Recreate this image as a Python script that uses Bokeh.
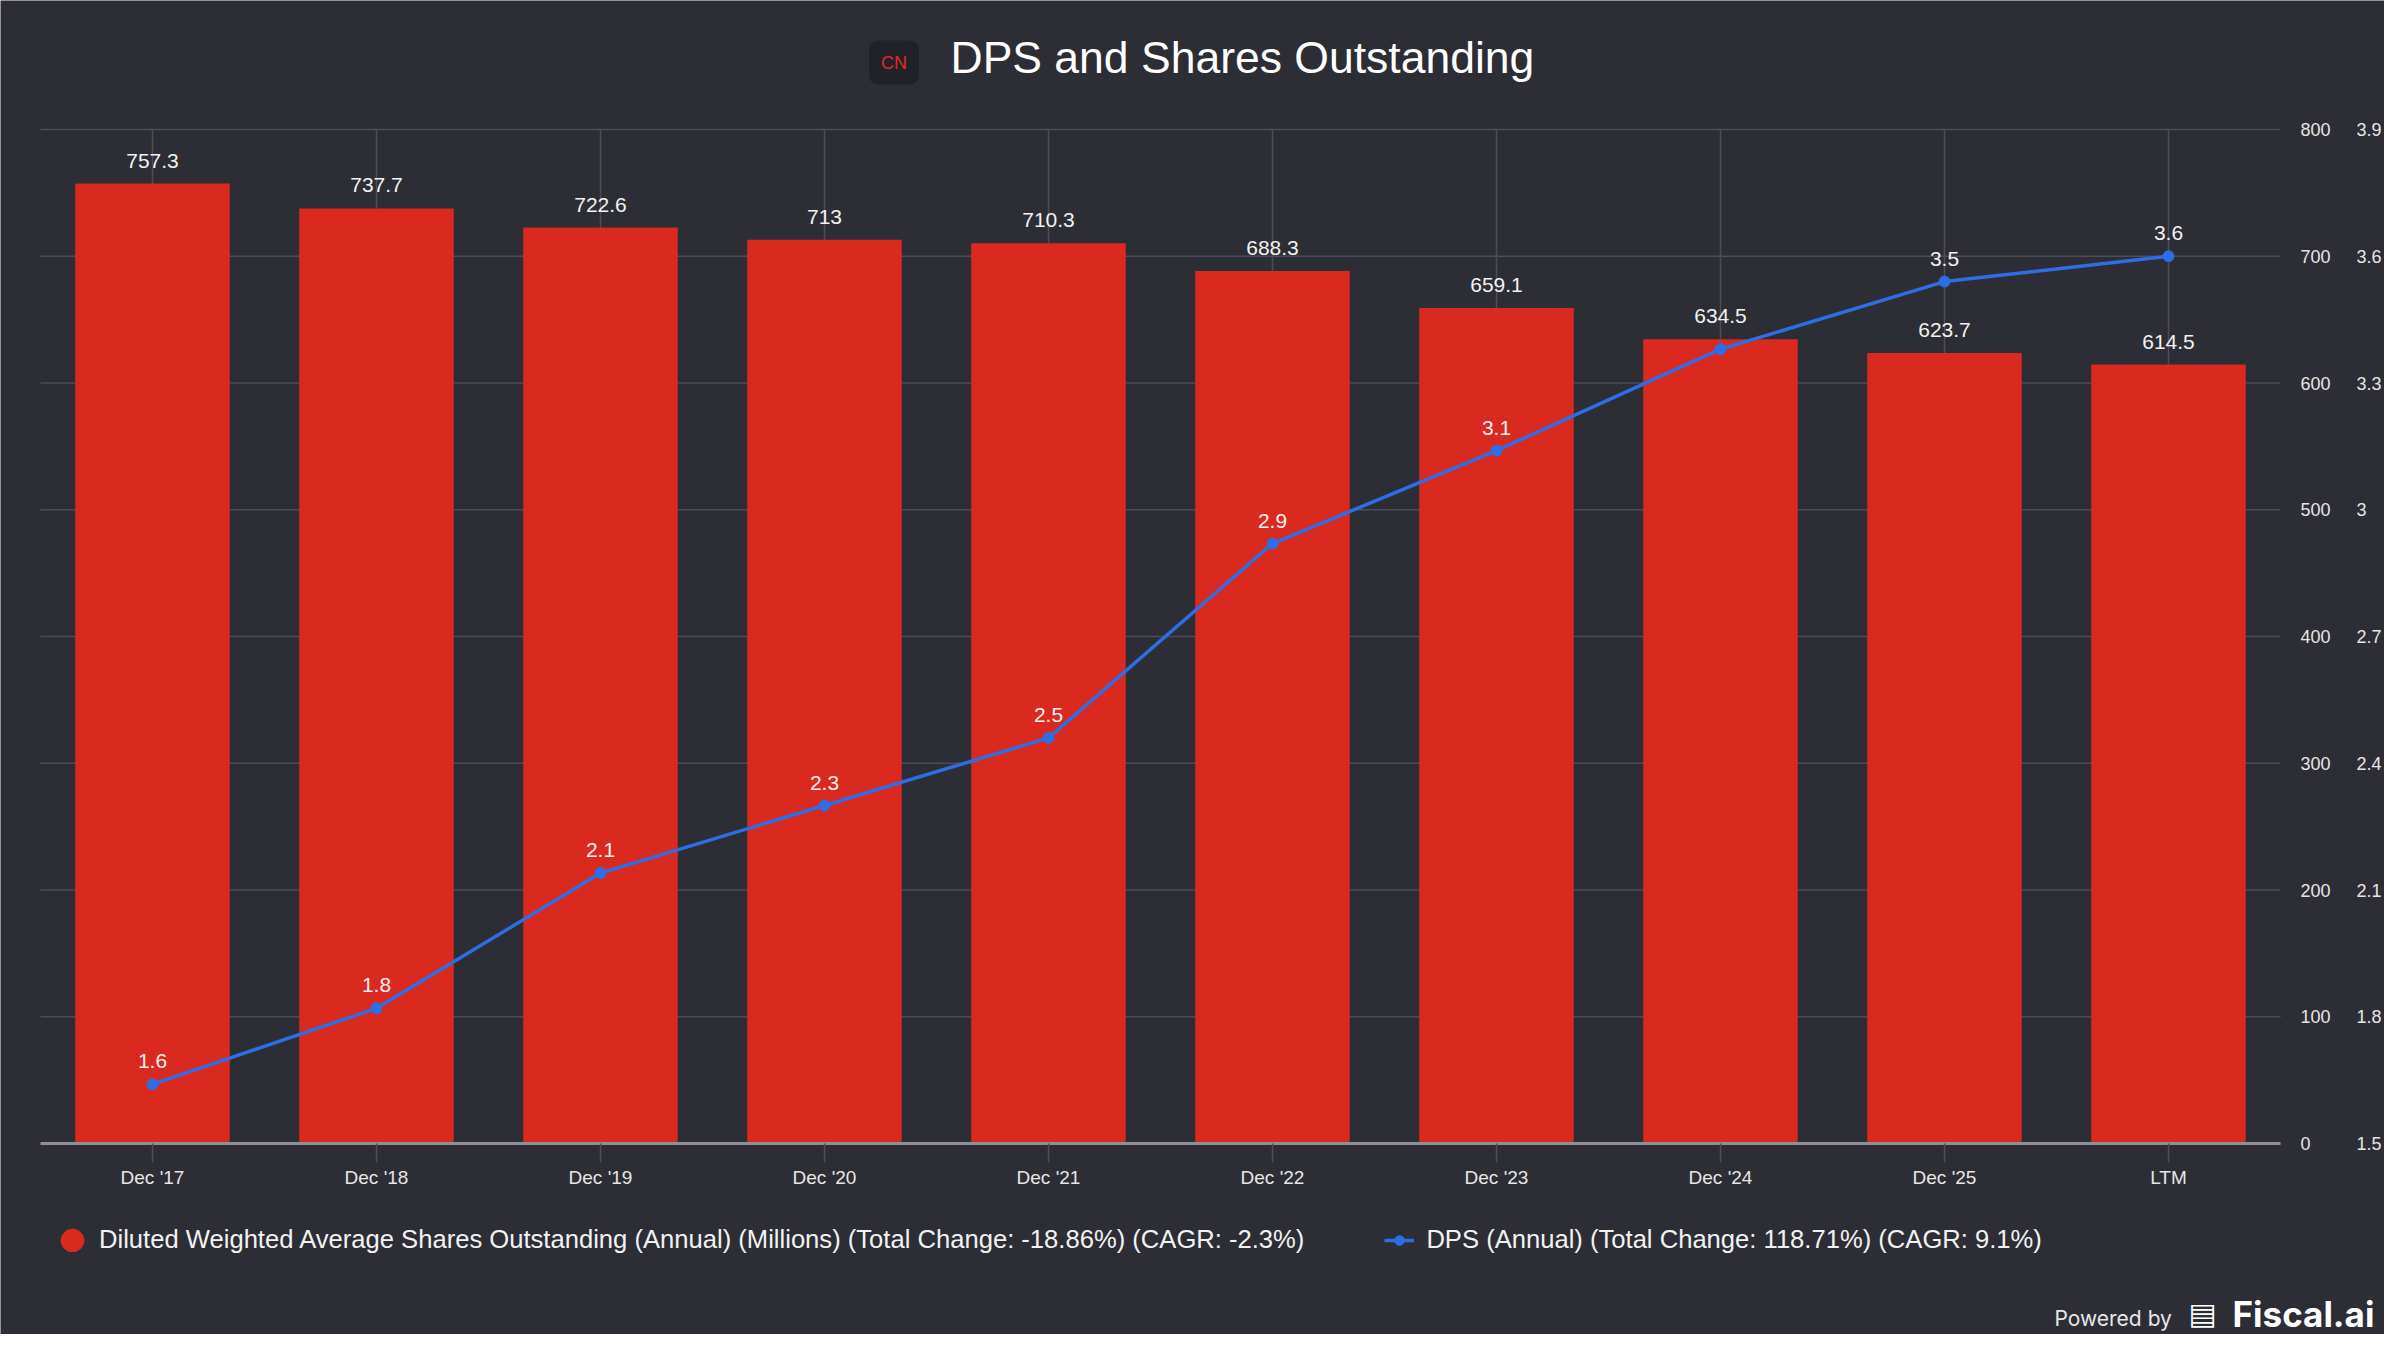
from bokeh.plotting import figure
from bokeh.models import (Range1d, LinearAxis, FixedTicker, NumeralTickFormatter,
                          ColumnDataSource, Legend, LegendItem, Label)
from bokeh.embed import file_html
from bokeh.resources import INLINE
from bokeh.core.properties import value

# ---------------- data ----------------
categories = ["Dec '17", "Dec '18", "Dec '19", "Dec '20", "Dec '21",
              "Dec '22", "Dec '23", "Dec '24", "Dec '25", "LTM"]
shares = [757.3, 737.7, 722.6, 713.0, 710.3, 688.3, 659.1, 634.5, 623.7, 614.5]
dps = [1.64, 1.82, 2.14, 2.30, 2.46, 2.92, 3.14, 3.38, 3.54, 3.60]
dps_label_shown = [True, True, True, True, True, True, True, False, True, True]
shares_ticks = [0, 100, 200, 300, 400, 500, 600, 700, 800]
dps_ticks = [1.5, 1.8, 2.1, 2.4, 2.7, 3.0, 3.3, 3.6, 3.9]
title_text = "DPS and Shares Outstanding"
shares_legend = ("Diluted Weighted Average Shares Outstanding (Annual) (Millions) "
                 "(Total Change: -18.86%) (CAGR: -2.3%)")
dps_legend = "DPS (Annual) (Total Change: 118.71%) (CAGR: 9.1%)"

# ---------------- style / layout (pixels) ----------------
BG = "#2c2d35"
GRID = "#4c4d55"
RED = "#da291e"
BLUE = "#2d6ee6"
TXT = "#f2f2f2"
FONT = "Liberation Sans"

W, H = 2384, 1334
CAT_W, PAD_L = 224, 40                 # category slot width, left padding
Y_TOP, Y_BASE = 129, 1143              # pixel rows of the top tick and of zero

n = len(categories)
pos = list(range(n))
PAD_R = W - PAD_L - n * CAT_W
x_start = -0.5 - PAD_L / CAT_W
x_end = n - 0.5 + PAD_R / CAT_W
k1 = (Y_BASE - Y_TOP) / (shares_ticks[-1] - shares_ticks[0])
k2 = (Y_BASE - Y_TOP) / (dps_ticks[-1] - dps_ticks[0])

src = ColumnDataSource(dict(
    x=pos,
    cat=categories,
    shares=shares,
    share_lbl=[f"{v:g}" for v in shares],
    dps=dps,
    dps_lbl=[f"{v:.1f}" if s else "" for v, s in zip(dps, dps_label_shown)],
))

p = figure(width=W, height=H,
           x_range=Range1d(x_start, x_end),
           y_range=Range1d(shares_ticks[0] - (H - Y_BASE) / k1, shares_ticks[-1] + Y_TOP / k1),
           y_axis_location="right",
           output_backend="svg", toolbar_location=None, min_border=0)
p.extra_y_ranges = {"dps": Range1d(dps_ticks[0] - (H - Y_BASE) / k2, dps_ticks[-1] + Y_TOP / k2)}
p.title.visible = False

p.background_fill_color = BG
p.border_fill_color = BG
p.outline_line_color = None
p.xgrid.visible = False
p.ygrid.visible = False

# grid lines, limited to the plotting area of the categories
hsrc = ColumnDataSource(dict(y=shares_ticks, x0=[pos[0] - 0.5] * len(shares_ticks),
                             x1=[pos[-1] + 0.5] * len(shares_ticks)))
vsrc = ColumnDataSource(dict(x=pos, y0=[shares_ticks[0]] * n, y1=[shares_ticks[-1]] * n))
p.segment(x0="x0", y0="y", x1="x1", y1="y", source=hsrc, line_color=GRID, line_width=1.5,
          level="underlay")
p.segment(x0="x", y0="y0", x1="x", y1="y1", source=vsrc, line_color=GRID, line_width=1.5,
          level="underlay")

# x axis at zero
xa = p.xaxis[0]
xa.fixed_location = 0
xa.bounds = (pos[0] - 0.5, pos[-1] + 0.5)
xa.ticker = FixedTicker(ticks=pos)
xa.major_label_overrides = {i: c for i, c in zip(pos, categories)}
xa.minor_tick_line_color = None
xa.axis_line_color = "#8e8e94"
xa.axis_line_width = 3
xa.major_tick_out = 19
xa.major_tick_in = 0
xa.major_tick_line_color = GRID
xa.major_tick_line_width = 1.5
xa.major_label_standoff = 4
xa.major_label_text_font = FONT
xa.major_label_text_font_size = "19px"
xa.major_label_text_color = "#e6e6e6"

# right axes
ya = p.yaxis[0]
ya.ticker = FixedTicker(ticks=shares_ticks)
ya.formatter = NumeralTickFormatter(format="0")
ax2 = LinearAxis(y_range_name="dps", ticker=FixedTicker(ticks=dps_ticks),
                 formatter=NumeralTickFormatter(format="0.[0]"))
p.add_layout(ax2, "right")
for a, stand in ((ya, 20), (ax2, 76)):
    a.fixed_location = pos[-1] + 0.5
    a.axis_line_color = None
    a.major_tick_line_color = None
    a.minor_tick_line_color = None
    a.major_tick_out = 0
    a.major_tick_in = 0
    a.major_label_standoff = stand
    a.major_label_text_font = FONT
    a.major_label_text_font_size = "18px"
    a.major_label_text_color = "#e6e6e6"

# bars
bars = p.vbar(x="x", top="shares", width=0.69, source=src, fill_color=RED, line_color=None)
p.text(x="x", y="shares", text="share_lbl", source=src,
       text_align="center", text_baseline="middle", y_offset=-23,
       text_font=value(FONT), text_font_size="21px", text_color=TXT)

# DPS line
dline = p.line(x="x", y="dps", source=src, y_range_name="dps", line_color=BLUE, line_width=3.5)
ddot = p.scatter(x="x", y="dps", source=src, y_range_name="dps", marker="circle",
                 size=11, fill_color=BLUE, line_color=BLUE)
p.text(x="x", y="dps", text="dps_lbl", source=src, y_range_name="dps",
       text_align="center", text_baseline="middle", y_offset=-23,
       text_font=value(FONT), text_font_size="21px", text_color=TXT)

# hidden renderer that only supplies the round red legend swatch
red_swatch = p.scatter(x="x", y="shares", source=src, marker="circle",
                       fill_color=RED, line_color=RED, line_width=14, visible=False)

legend = Legend(items=[LegendItem(label=shares_legend, renderers=[red_swatch]),
                       LegendItem(label=dps_legend, renderers=[dline, ddot])],
                orientation="horizontal", location=(57, 80))
legend.glyph_width = 30
legend.glyph_height = 24
legend.label_standoff = 12
legend.spacing = 80
legend.padding = 0
legend.margin = 0
legend.label_text_font = FONT
legend.label_text_font_size = "25.6px"
legend.label_text_color = TXT
legend.background_fill_alpha = 0
legend.border_line_color = None
legend.inactive_fill_alpha = 0
legend.click_policy = "none"
p.add_layout(legend)

# title and logo badge
p.add_layout(Label(x=950, y=H - 57, x_units="screen", y_units="screen", text=title_text,
                   text_align="left", text_baseline="middle", text_font=FONT,
                   text_font_size="44.5px", text_color="#ffffff"))
p.add_layout(Label(x=893.5, y=H - 62, x_units="screen", y_units="screen", text="CN",
                   text_align="center", text_baseline="middle", text_font=FONT,
                   text_font_size="18px", text_color="#e3262b",
                   background_fill_color="#1f2228", padding=12, border_radius=9))

# footer
p.add_layout(Label(x=2054, y=H - 1318, x_units="screen", y_units="screen", text="Powered by",
                   text_align="left", text_baseline="middle", text_font="Inter",
                   text_font_size="21px", text_color="#e8e8e8"))
p.add_layout(Label(x=2202, y=H - 1313, x_units="screen", y_units="screen", text="▤",
                   text_align="center", text_baseline="middle", text_font="DejaVu Sans",
                   text_font_size="30px", text_color="#ffffff"))
p.add_layout(Label(x=2232, y=H - 1313, x_units="screen", y_units="screen", text="Fiscal.ai",
                   text_align="left", text_baseline="middle", text_font="Inter",
                   text_font_size="35px", text_font_style="bold", text_color="#ffffff"))

open("out.html", "w").write(file_html(p, INLINE))
